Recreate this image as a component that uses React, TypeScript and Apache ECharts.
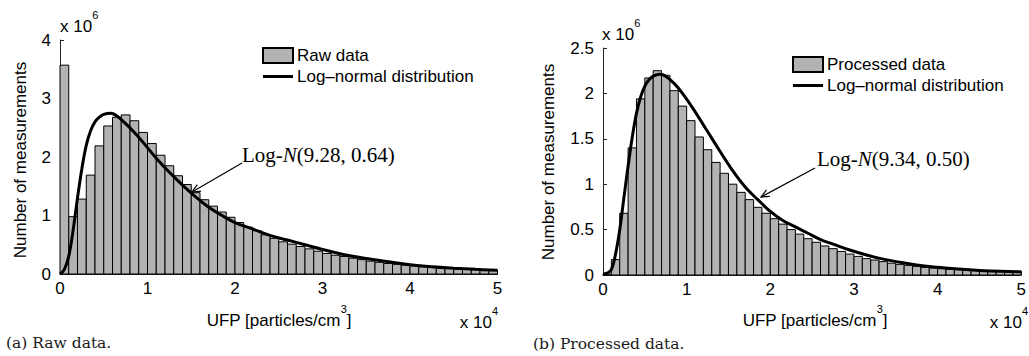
import React, { useEffect, useRef } from "react";
import * as echarts from "echarts";

// Histogram bins: 1000 particles/cm3 wide, 0 .. 50000
const BIN_WIDTH = 1000;

// Counts per bin, in units of 10^6 measurements
const rawCounts = [
  3.57, 0.98, 1.28, 1.69, 2.19, 2.53, 2.68, 2.72, 2.62, 2.42,
  2.23, 2.03, 1.85, 1.68, 1.53, 1.39, 1.27, 1.16, 1.06, 0.97,
  0.88, 0.8, 0.74, 0.67, 0.61, 0.55, 0.51, 0.47, 0.43, 0.39,
  0.35, 0.32, 0.3, 0.27, 0.245, 0.22, 0.2, 0.18, 0.165, 0.15,
  0.14, 0.125, 0.115, 0.1, 0.097, 0.085, 0.08, 0.074, 0.068, 0.063,
];

const processedCounts = [
  0.01, 0.17, 0.68, 1.4, 1.94, 2.17, 2.25, 2.2, 2.03, 1.86,
  1.7, 1.52, 1.38, 1.24, 1.12, 1.0, 0.91, 0.83, 0.745, 0.68,
  0.62, 0.56, 0.5, 0.45, 0.4, 0.36, 0.32, 0.29, 0.26, 0.23,
  0.205, 0.18, 0.165, 0.147, 0.13, 0.117, 0.106, 0.095, 0.084, 0.077,
  0.07, 0.062, 0.059, 0.055, 0.051, 0.048, 0.044, 0.04, 0.037, 0.035,
];

// Fitted log-normal curves: [UFP, count x 10^6]
const rawFit = [
  [0, 0], [500, 0.08], [1000, 0.3], [1500, 0.75], [2000, 1.3], [2500, 1.8],
  [3000, 2.2], [3500, 2.45], [4000, 2.6], [4500, 2.68], [5000, 2.73],
  [5800, 2.75], [6500, 2.7], [7500, 2.57], [8500, 2.42], [9500, 2.25],
  [11000, 1.98], [12500, 1.74], [14000, 1.52], [15500, 1.32], [17000, 1.14],
  [18500, 1.0], [20000, 0.88], [22000, 0.77], [24000, 0.66], [26000, 0.58],
  [28000, 0.5], [30000, 0.42], [32500, 0.33], [35000, 0.265], [37500, 0.21],
  [40000, 0.16], [42500, 0.125], [45000, 0.1], [47500, 0.08], [50000, 0.065],
];

const processedFit = [
  [0, 0.01], [500, 0.02], [1000, 0.06], [1500, 0.23], [2000, 0.5], [2500, 0.85],
  [3000, 1.2], [3500, 1.52], [4000, 1.78], [4500, 1.96], [5000, 2.08],
  [5500, 2.15], [6000, 2.19], [6800, 2.21], [7500, 2.19], [8500, 2.11],
  [9500, 2.0], [11000, 1.8], [12500, 1.58], [14000, 1.36], [15500, 1.15],
  [17000, 0.97], [18500, 0.83], [20000, 0.7], [21500, 0.6], [23000, 0.53],
  [24500, 0.46], [26000, 0.39], [27500, 0.34], [29500, 0.275], [31500, 0.22],
  [33500, 0.175], [35500, 0.14], [37500, 0.11], [40000, 0.085], [42500, 0.065],
  [45000, 0.05], [47500, 0.04], [50000, 0.035],
];

const xTicks = [0, 10000, 20000, 30000, 40000, 50000];
const rawLabel = "Raw data";
const processedLabel = "Processed data";
const fitLabel = "Log\u2013normal distribution";

const SANS = "'Liberation Sans', Arial, Helvetica, sans-serif";
const SERIF = "'Liberation Serif', 'Times New Roman', serif";
const CAPTION = "'DejaVu Serif', serif";
const INK = "#000";
const AXIS = "#262626";

function arrow(x1: number, y1: number, x2: number, y2: number) {
  const dx = x2 - x1;
  const dy = y2 - y1;
  const len = Math.hypot(dx, dy);
  const bx = -dx / len;
  const by = -dy / len;
  const h = 9;
  const a = 0.42;
  const c = Math.cos(a);
  const s = Math.sin(a);
  const p1 = [x2 + h * (bx * c - by * s), y2 + h * (bx * s + by * c)];
  const p2 = [x2 + h * (bx * c + by * s), y2 + h * (-bx * s + by * c)];
  return [
    { type: "line", shape: { x1, y1, x2, y2 }, style: { stroke: INK, lineWidth: 1.2 } },
    {
      type: "polyline",
      shape: { points: [p1, [x2, y2], p2] },
      style: { stroke: INK, lineWidth: 1.2, fill: null },
    },
  ];
}

const supRich = {
  a: { fontFamily: SANS, fontSize: 17, fill: INK, lineHeight: 26, verticalAlign: "bottom" },
  s: { fontFamily: SANS, fontSize: 11, fill: INK, lineHeight: 26, verticalAlign: "top" },
};

function supText(x: number, y: number, text: string, align: string) {
  return {
    type: "text",
    x,
    y,
    style: { text, align, verticalAlign: "middle", fill: INK, rich: supRich },
  };
}

function annot(x: number, y: number, params: string) {
  return {
    type: "text",
    x,
    y,
    style: {
      text: `{a|Log-}{n|N}{a|(${params})}`,
      align: "left",
      verticalAlign: "middle",
      fill: INK,
      rich: {
        a: { fontFamily: SERIF, fontSize: 21, fill: INK },
        n: { fontFamily: SERIF, fontSize: 21, fill: INK, fontStyle: "italic" },
      },
    },
  };
}

function histSeries(name: string, counts: number[], idx: number) {
  return {
    type: "custom",
    name,
    xAxisIndex: idx,
    yAxisIndex: idx,
    itemStyle: { color: "#b3b3b3", borderColor: INK, borderWidth: 1 },
    encode: { x: [0, 1], y: 2 },
    data: counts.map((v, i) => [i * BIN_WIDTH, (i + 1) * BIN_WIDTH, v]),
    renderItem: (params: any, api: any) => {
      const p0 = api.coord([api.value(0), 0]);
      const p1 = api.coord([api.value(1), api.value(2)]);
      return {
        type: "rect",
        shape: { x: p0[0], y: p1[1], width: p1[0] - p0[0], height: p0[1] - p1[1] },
        style: { fill: "#b3b3b3", stroke: INK, lineWidth: 1 },
      };
    },
  };
}

function fitSeries(data: number[][], idx: number) {
  return {
    type: "line",
    name: fitLabel,
    xAxisIndex: idx,
    yAxisIndex: idx,
    data,
    smooth: 0.4,
    symbol: "none",
    lineStyle: { color: INK, width: 3 },
    itemStyle: { color: INK },
    z: 5,
  };
}

function xAxis(gridIndex: number) {
  return {
    type: "value",
    gridIndex,
    min: xTicks[0],
    max: xTicks[xTicks.length - 1],
    interval: 10000,
    axisLine: { lineStyle: { color: AXIS, width: 1 } },
    axisTick: { inside: true, length: 4, lineStyle: { color: AXIS } },
    splitLine: { show: false },
    axisLabel: {
      margin: 6,
      fontFamily: SANS,
      fontSize: 17,
      color: INK,
      formatter: (v: number) => String(v / 10000),
    },
  };
}

function yAxis(gridIndex: number, max: number, interval: number) {
  return {
    type: "value",
    gridIndex,
    min: 0,
    max,
    interval,
    axisLine: { show: true, lineStyle: { color: AXIS, width: 1 } },
    axisTick: { show: true, inside: true, length: 4, lineStyle: { color: AXIS } },
    splitLine: { show: false },
    axisLabel: { margin: 9, fontFamily: SANS, fontSize: 17, color: INK },
  };
}

function legend(left: number, top: number, histName: string) {
  return {
    left,
    top,
    orient: "vertical",
    itemWidth: 30,
    itemHeight: 15,
    itemGap: 4,
    selectedMode: false,
    padding: 0,
    textStyle: { fontFamily: SANS, fontSize: 17, color: INK, padding: [0, 0, 0, -1] },
    data: [
      { name: histName, icon: "rect" },
      { name: fitLabel, icon: "path://M0,0 L30,0 L30,3 L0,3 Z", itemStyle: { color: INK } },
    ],
  };
}

export default function App() {
  const ref = useRef<HTMLDivElement>(null);
  useEffect(() => {
    if (!ref.current) return;
    const chart = echarts.init(ref.current, undefined, { renderer: "svg" });
    chart.setOption({
      animation: false,
      backgroundColor: "#fff",
      grid: [
        { left: 60, top: 40, width: 437.5, height: 234 },
        { left: 603, top: 48, width: 424, height: 227 },
      ],
      xAxis: [xAxis(0), xAxis(1)],
      yAxis: [yAxis(0, 4, 1), yAxis(1, 2.5, 0.5)],
      legend: [legend(262, 47, rawLabel), legend(792, 56, processedLabel)],
      series: [
        histSeries(rawLabel, rawCounts, 0),
        fitSeries(rawFit, 0),
        histSeries(processedLabel, processedCounts, 1),
        fitSeries(processedFit, 1),
      ],
      graphic: [
        supText(60, 22, "{a|x 10}{s|6}", "left"),
        supText(602, 30, "{a|x 10}{s|6}", "left"),
        supText(498, 318, "{a|x 10}{s|4}", "right"),
        supText(1028, 318, "{a|x 10}{s|4}", "right"),
        supText(279, 316, "{a|UFP [particles/cm}{s|3}{a|]}", "center"),
        supText(815, 316, "{a|UFP [particles/cm}{s|3}{a|]}", "center"),
        {
          type: "text",
          x: 20,
          y: 160,
          rotation: Math.PI / 2,
          style: {
            text: "Number of measurements",
            fontFamily: SANS,
            fontSize: 17,
            fill: INK,
            align: "center",
            verticalAlign: "middle",
          },
        },
        {
          type: "text",
          x: 548,
          y: 162,
          rotation: Math.PI / 2,
          style: {
            text: "Number of measurements",
            fontFamily: SANS,
            fontSize: 17,
            fill: INK,
            align: "center",
            verticalAlign: "middle",
          },
        },
        annot(242, 155, "9.28, 0.64"),
        annot(817, 159, "9.34, 0.50"),
        ...arrow(242, 163, 192, 192),
        ...arrow(815, 168, 761, 197),
        {
          type: "text",
          x: 6,
          y: 343,
          style: {
            text: "(a) Raw data.",
            fontFamily: CAPTION,
            fontSize: 15.5,
            fill: "#1a1a1a",
            align: "left",
            verticalAlign: "middle",
          },
        },
        {
          type: "text",
          x: 533,
          y: 344,
          style: {
            text: "(b) Processed data.",
            fontFamily: CAPTION,
            fontSize: 15.5,
            fill: "#1a1a1a",
            align: "left",
            verticalAlign: "middle",
          },
        },
      ],
    });
    return () => chart.dispose();
  }, []);
  return (
    <div
      ref={ref}
      style={{ position: "fixed", left: 0, top: 0, width: 1029, height: 356, background: "#fff" }}
    />
  );
}
